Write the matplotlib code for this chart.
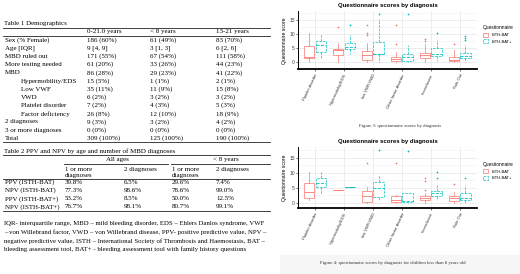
import matplotlib.pyplot as plt
from matplotlib.patches import Patch, Rectangle

W, H = 520, 274

# table 1
t1_head = ["0-21.0 years", "< 8 years", "13-21 years"]
t1_rows = ["Sex (% Female)", "Age [IQR]", "MBD ruled out", "More testing needed", "MBD",
           "Hypermobility/EDS", "Low VWF", "VWD", "Platelet disorder", "Factor deficiency",
           "2 diagnoses", "3 or more diagnoses", "Total"]
t1_indent = [0, 0, 0, 0, 0, 1, 1, 1, 1, 1, 0, 0, 0]
t1_all = ["186 (60%)", "9 [4, 9]", "171 (55%)", "61 (20%)", "86 (28%)", "15 (5%)", "35 (11%)",
          "6 (2%)", "7 (2%)", "26 (8%)", "9 (3%)", "0 (0%)", "309 (100%)"]
t1_lt8 = ["61 (49%)", "3 [1, 3]", "67 (54%)", "33 (26%)", "29 (23%)", "1 (1%)", "11 (9%)",
          "3 (2%)", "4 (3%)", "12 (10%)", "3 (2%)", "0 (0%)", "125 (100%)"]
t1_1321 = ["83 (70%)", "6 [2, 6]", "111 (58%)", "44 (23%)", "41 (22%)", "2 (1%)", "15 (8%)",
           "3 (2%)", "5 (3%)", "18 (9%)", "4 (2%)", "0 (0%)", "190 (100%)"]

# table 2
t2_groups = ["All ages", "< 8 years"]
t2_sub = ["1 or more\ndiagnoses", "2 diagnoses", "1 or more\ndiagnoses", "2 diagnoses"]
t2_rows = ["PPV (ISTH-BAT)", "NPV (ISTH-BAT)", "PPV (ISTH-BAT+)", "NPV (ISTH-BAT+)"]
t2_vals = [["39.8%", "6.5%", "29.6%", "7.4%"],
           ["77.3%", "98.6%", "78.6%", "99.0%"],
           ["53.2%", "8.5%", "50.0%", "12.5%"],
           ["76.7%", "98.1%", "80.7%", "99.1%"]]

footnote = ["IQR- interquartile range, MBD \u2013 mild bleeding disorder, EDS \u2013 Ehlers Danlos syndrome, VWF",
            "\u2013 von Willebrand factor, VWD \u2013 von Willebrand disease, PPV- positive predictive value, NPV \u2013",
            "negative predictive value, ISTH \u2013 International Society of Thrombosis and Haemostasis, BAT \u2013",
            "bleeding assessment tool, BAT+ - bleeding assessment tool with family history questions"]

# box plot data
cats = ["Platelet disorder", "Hypermobility/EDS", "low VWF/VWD", "Other factor disorder",
        "Inconclusive", "Rule Out"]

# figure 3 - all ages
f3_bat_q1 = [1.3, 2.7, 0.9, 0.35, 1.5, 0.35]
f3_bat_med = [1.9, 4.2, 2.4, 1.0, 2.4, 0.9]
f3_bat_q3 = [5.7, 4.6, 3.9, 1.9, 3.2, 1.9]
f3_bat_lo = [0, 0.1, 0, 0, 0.1, 0]
f3_bat_hi = [10.4, 6.6, 6.7, 3.6, 6.5, 4.2]
f3_bat_out = [[], [12.3], [9.6, 10.2, 13.2], [6.5, 13.2], [7.4, 8.3], [6.5]]

f3_batp_q1 = [3.6, 4.6, 2.8, 0.35, 2.1, 1.3]
f3_batp_med = [6.2, 5.3, 3.0, 1.8, 3.0, 2.1]
f3_batp_q3 = [7.4, 6.7, 7.3, 3.0, 5.0, 3.2]
f3_batp_lo = [1.4, 3.0, 0.2, 0, 0.5, 0.2]
f3_batp_hi = [10.0, 9.5, 15.3, 5.9, 7.9, 5.9]
f3_batp_out = [[], [13.2], [17.0], [17.2], [10.2], [7.9, 8.6, 9.4]]

# figure 4 - under 8 years
f4_bat_q1 = [1.7, 4.2, 0.3, 0.3, 0.9, 0.7]
f4_bat_med = [3.4, 4.2, 2.2, 0.9, 1.7, 1.4]
f4_bat_q3 = [6.4, 4.2, 3.9, 2.2, 2.2, 2.2]
f4_bat_lo = [0.9, 4.2, 0, 0, 0, 0]
f4_bat_hi = [10.3, 4.2, 5.3, 2.6, 3.1, 3.7]
f4_bat_out = [[], [], [13.1], [13.1], [4.2, 7.2, 8.1], [6.1]]

f4_batp_q1 = [5.1, 5.1, 2.0, 0.1, 2.2, 0.9]
f4_batp_med = [6.7, 5.1, 5.0, 0.7, 3.1, 1.7]
f4_batp_q3 = [8.1, 5.1, 7.0, 3.1, 4.0, 3.1]
f4_batp_lo = [3.0, 5.1, 0.5, 0, 1.0, 0]
f4_batp_hi = [10.3, 5.1, 9.2, 3.1, 5.9, 5.9]
f4_batp_out = [[], [], [17.6], [17.2], [8.1, 10.1], [8.1]]

RED = "#F8766D"
TEAL = "#00BFC4"
SERIF = "Liberation Serif"
SANS = "Liberation Sans"
TSIZE = 5.0

fig = plt.figure(figsize=(W / 100, H / 100), dpi=100)


def txt(x, y, s, size=TSIZE, **kw):
    kw.setdefault("family", SERIF)
    kw.setdefault("va", "center")
    fig.text(x / W, 1 - y / H, s, fontsize=size, **kw)


def hline(x0, x1, y, lw=0.6):
    fig.add_artist(plt.Line2D([x0 / W, x1 / W], [1 - y / H, 1 - y / H], color="#222222", lw=lw))


# ---- Table 1
txt(4, 24, "Table 1 Demographics")
hline(3, 270, 28)
for i, h in enumerate(t1_head):
    txt([87, 150, 216][i], 32, h)
hline(3, 270, 36)
for i, r in enumerate(t1_rows):
    y = 40 + i * 8.2
    txt(5 + 16 * t1_indent[i], y, r)
    txt(87, y, t1_all[i])
    txt(150, y, t1_lt8[i])
    txt(216, y, t1_1321[i])
hline(3, 270, 40 + 12 * 8.2 + 4)

# ---- Table 2
txt(4, 151, "Table 2 PPV and NPV by age and number of MBD diagnoses")
hline(3, 270, 155)
txt(117, 159.5, t2_groups[0], ha="center")
txt(226, 159.5, t2_groups[1], ha="center")
hline(64, 168, 163.5)
hline(171, 270, 163.5)
cols2 = [65, 124, 172, 216]
for j, s in enumerate(t2_sub):
    txt(cols2[j], 167, s, va="top", linespacing=1.2)
hline(3, 270, 178.5)
for i, r in enumerate(t2_rows):
    y = 182.5 + i * 8.1
    txt(5, y, r)
    for j in range(4):
        txt(cols2[j], y, t2_vals[i][j])
hline(3, 270, 182.5 + 3 * 8.1 + 4)

for i, line in enumerate(footnote):
    txt(4, 224 + i * 8.5, line, size=4.9)

# light strip behind the lower caption
fig.add_artist(Rectangle((280 / W, 0), (W - 280) / W, 19 / H, transform=fig.transFigure,
                         color="#f6f6f6", lw=0, zorder=0))


def stats(q1, med, q3, lo, hi, out):
    return [dict(q1=q1[k], med=med[k], q3=q3[k], whislo=lo[k], whishi=hi[k], fliers=out[k])
            for k in range(len(q1))]


def box_panel(top, bottom, ylim, bat, batp):
    ax = fig.add_axes([298 / W, 1 - bottom / H, (477 - 298) / W, (bottom - top) / H])
    pos = list(range(1, len(cats) + 1))
    for data, col, ls, off in [(bat, RED, "-", -0.2), (batp, TEAL, "--", 0.2)]:
        ax.bxp(stats(*data), positions=[p + off for p in pos], widths=0.36, showcaps=False,
               patch_artist=True,
               boxprops=dict(facecolor="white", edgecolor=col, lw=0.5, ls=ls),
               whiskerprops=dict(color=col, lw=0.5, ls=ls),
               medianprops=dict(color=col, lw=0.6, ls=ls),
               flierprops=dict(marker="+", markersize=1.6, markeredgecolor=col, mew=0.5))
    ax.set_xlim(0.41, 6.6)
    ax.set_ylim(*ylim)
    ax.set_yticks([0, 5, 10, 15])
    ax.set_yticks([2.5, 7.5, 12.5, 17.5], minor=True)
    ax.set_xticks(pos)
    ax.set_xticklabels(cats, rotation=65, ha="right", rotation_mode="anchor",
                       fontsize=3.0, family=SANS, color="#333333")
    ax.tick_params(axis="y", labelsize=3.6, labelcolor="#444444", length=1.2, width=0.4, pad=1)
    ax.tick_params(axis="x", length=1.2, width=0.4, pad=1.5)
    ax.tick_params(which="minor", length=0)
    for t in ax.get_yticklabels():
        t.set_family(SANS)
    ax.grid(True, which="major", color="#e6e6e6", lw=0.5)
    ax.grid(True, which="minor", axis="y", color="#f0f0f0", lw=0.4)
    ax.set_axisbelow(True)
    for s in ["top", "right"]:
        ax.spines[s].set_visible(False)
    ax.spines["left"].set_linewidth(0.7)
    ax.spines["bottom"].set_linewidth(1.3)
    ax.set_ylabel("Questionnaire score", fontsize=3.7, family=SANS, labelpad=1.5)
    ax.set_title("Questionnaire scores by diagnosis", fontsize=4.3, family=SANS,
                 fontweight="bold", pad=3)
    handles = [Patch(facecolor="white", edgecolor=RED, lw=0.5, label="ISTH-BAT"),
               Patch(facecolor="white", edgecolor=TEAL, lw=0.5, ls="--", label="ISTH-BAT+")]
    leg = ax.legend(handles=handles, title="Questionnaire", loc="upper left",
                    bbox_to_anchor=(1.025, 0.78), frameon=False, fontsize=2.9,
                    title_fontsize=3.5, handlelength=1.2, handleheight=1.0,
                    borderaxespad=0, labelspacing=0.6)
    leg._legend_box.align = "left"
    for t in leg.get_texts():
        t.set_family(SANS)
    leg.get_title().set_family(SANS)
    return ax


box_panel(11, 69.5, (-2.6, 18.1),
          (f3_bat_q1, f3_bat_med, f3_bat_q3, f3_bat_lo, f3_bat_hi, f3_bat_out),
          (f3_batp_q1, f3_batp_med, f3_batp_q3, f3_batp_lo, f3_batp_hi, f3_batp_out))
box_panel(147, 208, (-1.8, 18.6),
          (f4_bat_q1, f4_bat_med, f4_bat_q3, f4_bat_lo, f4_bat_hi, f4_bat_out),
          (f4_batp_q1, f4_batp_med, f4_batp_q3, f4_batp_lo, f4_batp_hi, f4_batp_out))

txt(400, 126, "Figure 3: questionnaire scores by diagnosis", size=3.4, ha="center",
    color="#333333")
txt(393, 263, "Figure 4: questionnaire scores by diagnosis for children less than 8 years old",
    size=3.4, ha="center", color="#333333")

fig.savefig("out.png", dpi=100)
